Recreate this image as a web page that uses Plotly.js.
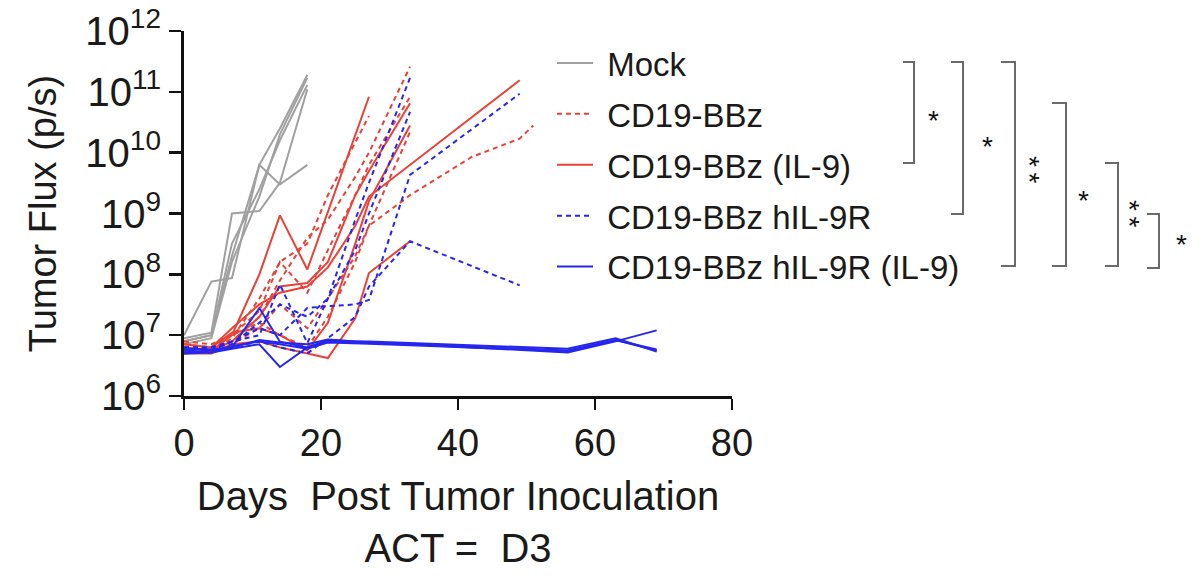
<!DOCTYPE html>
<html>
<head>
<meta charset="utf-8">
<script src="https://cdn.plot.ly/plotly-3.0.1.min.js"></script>
<style>
  html, body { margin: 0; padding: 0; background: #fff; }
  #chart { width: 1200px; height: 580px; }
</style>
</head>
<body>
<div id="chart"></div>
<script>
// group names (legend order)
var groupNames = ["Mock", "CD19-BBz", "CD19-BBz (IL-9)", "CD19-BBz hIL-9R", "CD19-BBz hIL-9R (IL-9)"];

// Mock - one array per mouse
var mockDays = [
  [0, 4, 7, 11, 14, 18],
  [0, 4, 7, 11, 14, 18],
  [0, 4, 7, 11, 14, 18],
  [0, 4, 7, 11, 14, 18],
  [0, 4, 7, 11, 14, 18]
];
var mockFlux = [
  [1.0e7, 7.6e7, 8.7e7, 6.3e9, 2.5e10, 1.9e11],
  [8.9e6, 1.1e7, 1.0e9, 1.1e9, 3.2e9, 1.1e11],
  [7.9e6, 1.0e7, 2.0e8, 6.3e9, 3.0e9, 6.3e9],
  [7.1e6, 8.9e6, 1.6e8, 1.9e9, 2.0e10, 1.7e11],
  [7.9e6, 1.0e7, 3.2e8, 2.5e9, 1.6e10, 1.3e11]
];

// CD19-BBz
var bbzDays = [
  [0, 4, 7, 11, 14, 18, 21, 25, 27, 33],
  [0, 4, 7, 11, 14, 18, 21, 27],
  [0, 4, 7, 11, 14, 18, 21, 25, 27, 33],
  [0, 4, 7, 11, 14, 18, 21, 25, 27, 33, 42, 49, 51],
  [0, 4, 7, 11, 14, 18, 21, 25, 27, 33]
];
var bbzFlux = [
  [7.1e6, 6.3e6, 7.9e6, 2.0e7, 7.9e7, 4.0e8, 7.9e8, 4.0e9, 1.0e10, 2.6e11],
  [6.3e6, 5.6e6, 8.9e6, 4.0e7, 1.6e8, 3.2e8, 2.0e9, 4.0e10],
  [5.6e6, 6.3e6, 1.0e7, 1.6e7, 1.0e7, 6.3e6, 2.0e7, 1.6e8, 6.3e8, 2.2e10],
  [6.3e6, 6.3e6, 7.1e6, 1.3e7, 3.2e7, 1.3e7, 4.0e7, 2.0e8, 6.3e8, 2.0e9, 8.5e9, 1.7e10, 2.8e10],
  [7.9e6, 7.1e6, 1.0e7, 2.5e7, 1.6e8, 5.0e7, 2.5e8, 2.0e9, 6.3e9, 8.3e10]
];

// CD19-BBz (IL-9)
var bbzIl9Days = [
  [0, 4, 7, 11, 14, 18, 27],
  [0, 4, 7, 11, 14, 18, 21, 25, 27, 33],
  [0, 4, 7, 11, 14, 18, 21, 25, 27, 49],
  [0, 4, 7, 11, 14, 18, 21, 25, 27, 33],
  [0, 4, 7, 11, 14, 18, 21, 25, 27, 33]
];
var bbzIl9Flux = [
  [6.3e6, 5.6e6, 1.0e7, 1.0e8, 9.3e8, 1.2e8, 8.3e10],
  [5.0e6, 5.0e6, 7.1e6, 7.9e6, 6.3e6, 5.0e6, 4.2e6, 1.9e7, 1.05e8, 3.5e8],
  [5.6e6, 6.3e6, 1.3e7, 3.2e7, 5.0e7, 6.3e7, 1.3e8, 6.3e8, 1.9e9, 1.55e11],
  [6.3e6, 5.6e6, 7.9e6, 2.0e7, 6.3e7, 7.2e7, 1.6e8, 2.0e9, 5.0e9, 6.5e10],
  [7.1e6, 6.3e6, 1.1e7, 1.3e7, 1.0e7, 5.6e6, 1.6e7, 3.2e8, 1.6e9, 2.8e10]
];

// CD19-BBz hIL-9R
var hil9rDays = [
  [0, 4, 7, 11, 14, 18, 21, 25, 27, 33],
  [0, 4, 7, 11, 14, 18, 21, 25, 27, 33],
  [0, 4, 7, 11, 14, 18, 21, 25, 27, 33, 49],
  [0, 4, 7, 11, 14, 18, 21, 25, 27, 33, 49]
];
var hil9rFlux = [
  [6.3e6, 5.6e6, 7.9e6, 1.0e7, 6.8e7, 7.4e6, 4.0e7, 7.9e8, 3.2e9, 1.7e11],
  [5.6e6, 6.3e6, 7.1e6, 1.6e7, 3.2e7, 2.0e7, 4.0e7, 2.5e8, 1.0e9, 4.7e10],
  [6.3e6, 6.3e6, 7.9e6, 1.3e7, 1.0e7, 2.8e7, 3.0e7, 3.2e7, 3.8e7, 4.3e9, 9.3e10],
  [5.0e6, 5.6e6, 6.3e6, 7.9e6, 6.3e6, 5.0e6, 8.9e6, 2.0e7, 6.3e7, 3.5e8, 6.6e7]
];

// CD19-BBz hIL-9R (IL-9)
var hil9rIl9Days = [
  [0, 4, 7, 11, 14, 18, 21, 25, 27, 33, 56, 63, 69],
  [0, 4, 7, 11, 14, 18, 21, 25, 27, 33, 56, 63, 69],
  [0, 4, 7, 11, 14, 18, 21, 25, 27, 33, 56, 63, 69],
  [0, 4, 7, 11, 14, 18, 21, 25, 27, 33, 56, 63, 69]
];
var hil9rIl9Flux = [
  [5.6e6, 5.2e6, 6.3e6, 2.8e7, 7.8e6, 6.3e6, 8.3e6, 7.9e6, 7.6e6, 7.1e6, 5.6e6, 8.3e6, 5.6e6],
  [5.0e6, 5.2e6, 6.0e6, 7.1e6, 3.0e6, 6.3e6, 7.9e6, 7.6e6, 7.4e6, 7.1e6, 5.2e6, 7.9e6, 1.2e7],
  [5.2e6, 5.6e6, 6.6e6, 7.9e6, 7.1e6, 6.0e6, 7.6e6, 7.4e6, 7.2e6, 6.8e6, 5.5e6, 8.3e6, 5.8e6],
  [6.0e6, 5.8e6, 6.3e6, 8.3e6, 7.6e6, 7.1e6, 8.5e6, 7.9e6, 7.9e6, 7.4e6, 6.0e6, 8.9e6, 5.4e6]
];

// y ticks
var yTickVals = [1e6, 1e7, 1e8, 1e9, 1e10, 1e11, 1e12];
var yTickText = ["10<sup>6</sup>", "10<sup>7</sup>", "10<sup>8</sup>", "10<sup>9</sup>",
                 "10<sup>10</sup>", "10<sup>11</sup>", "10<sup>12</sup>"];
var xTickVals = [0, 20, 40, 60, 80];

// significance labels for the brackets (left to right)
var sigLabels = ["*", "*", "**", "*", "**", "*"];

var GRAY = "#a0a0a0", RED = "#ea4136", BLUE = "#2626ee";

var groups = [
  { days: mockDays, flux: mockFlux, color: GRAY, dash: "solid" },
  { days: bbzDays, flux: bbzFlux, color: RED, dash: "5px,4px" },
  { days: bbzIl9Days, flux: bbzIl9Flux, color: RED, dash: "solid" },
  { days: hil9rDays, flux: hil9rFlux, color: BLUE, dash: "5px,4px" },
  { days: hil9rIl9Days, flux: hil9rIl9Flux, color: BLUE, dash: "solid" }
];

var data = [];
groups.forEach(function (g, gi) {
  for (var m = 0; m < g.days.length; m++) {
    data.push({
      x: g.days[m],
      y: g.flux[m],
      type: "scatter",
      mode: "lines",
      // leading nbsp = gap between legend line and label
      name: "\u00a0" + groupNames[gi],
      legendgroup: "g" + gi,
      showlegend: m === 0,
      line: { color: g.color, width: 2, dash: g.dash },
      hoverinfo: "skip"
    });
  }
});

// plot box in pixels
var L = 184, T = 31, W = 548, H = 365;
function px(x) { return (x - L) / W; }
function py(y) { return (T + H - y) / H; }

// brackets: [vertical x, left end x, top y, bottom y, label x, label y]
var brackets = [
  [914, 903, 62, 163, 933, 117],
  [963, 951, 62, 214, 987, 143],
  [1015, 1001, 62, 266, 1033, 170],
  [1066, 1052, 103, 266, 1083, 197],
  [1118, 1105, 163, 266, 1133, 214],
  [1159, 1147, 214, 268, 1181, 242]
];

var shapes = [], annotations = [];
brackets.forEach(function (b, i) {
  shapes.push({
    type: "path", xref: "paper", yref: "paper",
    path: "M" + px(b[1]) + "," + py(b[2]) + " L" + px(b[0]) + "," + py(b[2]) +
          " L" + px(b[0]) + "," + py(b[3]) + " L" + px(b[1]) + "," + py(b[3]),
    line: { color: "#6a6a6a", width: 2 }
  });
  var lab = sigLabels[i];
  if (lab.length === 1) {
    annotations.push({
      xref: "paper", yref: "paper", x: px(b[4]), y: py(b[5]),
      text: lab, showarrow: false, xanchor: "center", yanchor: "middle",
      yshift: -3, font: { size: 28, color: "#111" }
    });
  } else {
    // two stacked stars, written as one rotated text
    annotations.push({
      xref: "paper", yref: "paper", x: px(b[4]), y: py(b[5]),
      text: "*\u2009*", textangle: 90, showarrow: false,
      xanchor: "center", yanchor: "middle",
      xshift: -3, font: { size: 28, color: "#111" }
    });
  }
});

var layout = {
  width: 1200,
  height: 580,
  margin: { l: L, r: 1200 - L - W, t: T, b: 580 - T - H },
  paper_bgcolor: "#ffffff",
  plot_bgcolor: "#ffffff",
  font: { family: "Liberation Sans, Arial, sans-serif", color: "#1a1a1a" },
  showlegend: true,
  legend: {
    x: px(552), xanchor: "left",
    y: py(35), yanchor: "top",
    font: { size: 33, color: "#1a1a1a" },
    tracegroupgap: 5,
    itemwidth: 36,
    bgcolor: "rgba(0,0,0,0)"
  },
  xaxis: {
    range: [0, 80],
    tickvals: xTickVals,
    ticks: "outside", ticklen: 11, tickwidth: 2.5, tickcolor: "#111",
    showline: true, linewidth: 3, linecolor: "#111",
    showgrid: false, zeroline: false,
    tickfont: { size: 38 },
    title: { text: "Days\u00a0\u00a0Post Tumor Inoculation<br>ACT =\u00a0\u00a0D3", font: { size: 40 }, standoff: 20 }
  },
  yaxis: {
    type: "log",
    range: [6, 12],
    tickvals: yTickVals, ticktext: yTickText,
    ticks: "outside", ticklen: 12, tickwidth: 2.5, tickcolor: "#111",
    showline: true, linewidth: 3, linecolor: "#111",
    showgrid: false, zeroline: false,
    tickfont: { size: 40 },
    title: { text: "Tumor Flux (p/s)", font: { size: 38 }, standoff: 18 }
  },
  shapes: shapes,
  annotations: annotations
};

Plotly.newPlot("chart", data, layout, { displayModeBar: false, staticPlot: true });
</script>
</body>
</html>
